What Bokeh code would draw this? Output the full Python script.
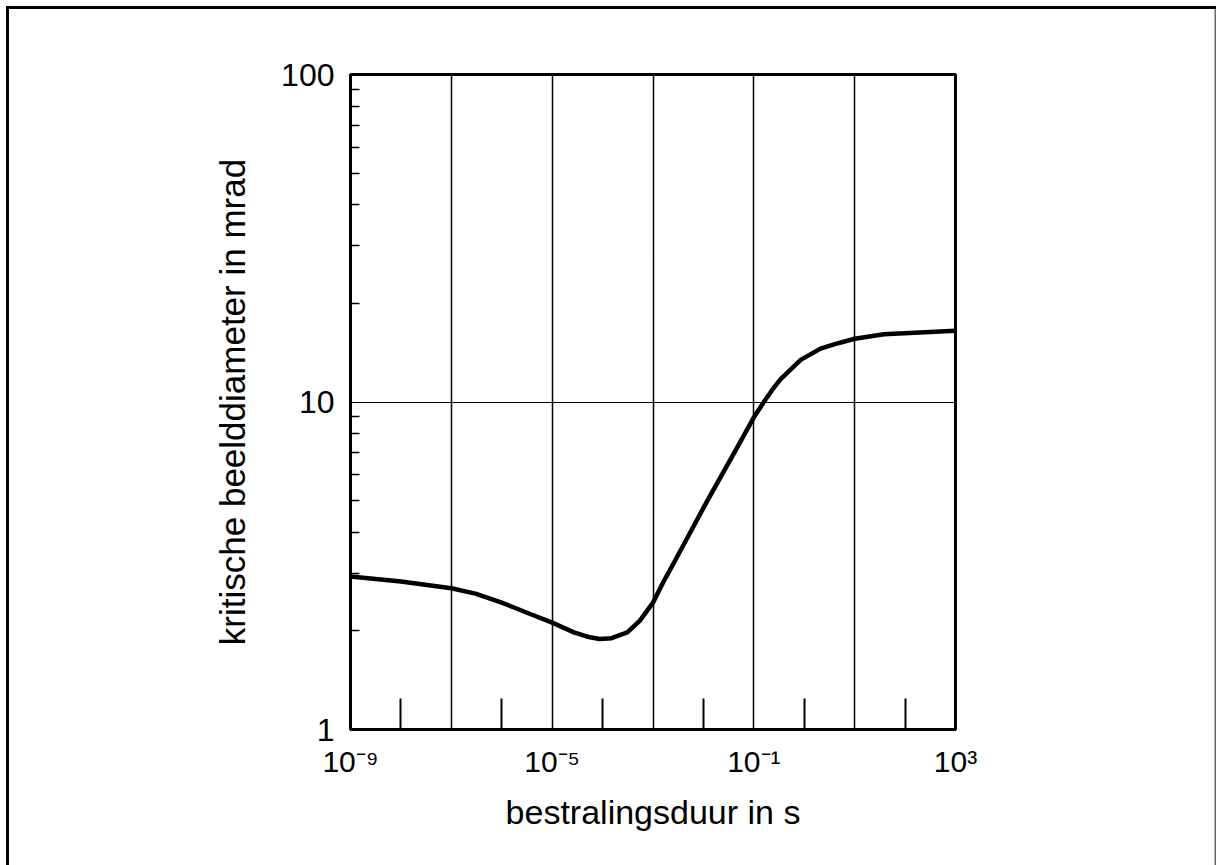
from bokeh.plotting import figure
from bokeh.models import FixedTicker, Range1d
from bokeh.embed import file_html
from bokeh.resources import INLINE

# ---- data ----
duur_s = [1e-9, 1e-8, 1e-7, 3e-7, 1e-6, 3e-6, 1e-5, 2.7e-5, 5e-5, 8.7e-5,
          1.5e-4, 3.1e-4, 5.5e-4, 1e-3, 1.66e-3, 2.6e-3, 1.2e-2, 5.5e-2,
          1e-1, 0.158, 0.233, 0.34, 0.85, 2.1, 3.9, 10, 38, 1000]
diameter_mrad = [2.93, 2.83, 2.70, 2.60, 2.44, 2.28, 2.12, 1.98, 1.92, 1.89,
                 1.90, 1.98, 2.15, 2.44, 2.85, 3.23, 5.0, 7.6,
                 8.98, 10.0, 10.9, 11.75, 13.45, 14.55, 15.0, 15.6, 16.1, 16.5]

x_major_ticks = [1e-9, 1e-5, 1e-1, 1e3]
x_major_labels = ["10\u207b\u2079", "10\u207b\u2075", "10\u207b\u00b9", "10\u00b3"]
x_minor_ticks = [1e-8, 1e-6, 1e-4, 1e-2, 1e0, 1e2]
x_grid_ticks = [1e-7, 1e-5, 1e-3, 1e-1, 1e1]
y_major_ticks = [1, 10, 100]
y_major_labels = ["1", "10", "100"]
y_minor_ticks = [2, 3, 4, 5, 6, 7, 8, 9, 20, 30, 40, 50, 60, 70, 80, 90]
y_grid_ticks = [10]

x_label = "bestralingsduur in s"
y_label = "kritische beelddiameter in mrad"

FONT = "Liberation Sans"

p = figure(width=1217, height=865, x_axis_type="log", y_axis_type="log",
           x_range=Range1d(1e-9, 1e3), y_range=Range1d(1, 100),
           output_backend="svg", toolbar_location=None,
           min_border_left=350, min_border_right=262,
           min_border_top=74, min_border_bottom=136)

p.background_fill_color = "white"
p.border_fill_color = "white"
p.border_fill_alpha = 0
p.outline_line_color = "black"
p.outline_line_width = 3

# outer frame of the page (drawn by CSS on the figure element)
p.styles = {
    "background-color": "white",
    "box-shadow": ("inset 6px 6px 0 0 white, inset -1px 0 0 0 white, "
                   "inset 9px 9px 0 0 black, inset -2.5px 0 0 0 #666666"),
}

# curve
p.line(duur_s, diameter_mrad, line_color="black", line_width=4.5,
       line_join="round")

# x axis
xa = p.xaxis[0]
xa.ticker = FixedTicker(ticks=x_major_ticks, minor_ticks=x_minor_ticks)
xa.major_label_overrides = {t: s for t, s in zip(x_major_ticks, x_major_labels)}
xa.major_tick_in = 0
xa.major_tick_out = 0
xa.minor_tick_in = 31
xa.minor_tick_out = 0
xa.minor_tick_line_width = 2
xa.minor_tick_line_color = "black"
xa.axis_line_width = 3
xa.major_label_text_font = FONT
xa.major_label_text_font_size = "30px"
xa.major_label_text_color = "black"
xa.major_label_standoff = 15
xa.axis_label = x_label
xa.axis_label_text_font = FONT
xa.axis_label_text_font_size = "34px"
xa.axis_label_text_font_style = "normal"
xa.axis_label_text_color = "black"
xa.axis_label_standoff = 12

# y axis
ya = p.yaxis[0]
ya.ticker = FixedTicker(ticks=y_major_ticks, minor_ticks=y_minor_ticks)
ya.major_label_overrides = {t: s for t, s in zip(y_major_ticks, y_major_labels)}
ya.major_tick_in = 0
ya.major_tick_out = 0
ya.minor_tick_in = 9
ya.minor_tick_out = 0
ya.minor_tick_line_width = 1.5
ya.minor_tick_line_color = "black"
ya.axis_line_width = 3
ya.major_label_text_font = FONT
ya.major_label_text_font_size = "32px"
ya.major_label_text_color = "black"
ya.major_label_standoff = 16
ya.axis_label = y_label
ya.axis_label_text_font = FONT
ya.axis_label_text_font_size = "35px"
ya.axis_label_text_font_style = "normal"
ya.axis_label_text_color = "black"
ya.axis_label_standoff = 26

# grids
p.xgrid.ticker = FixedTicker(ticks=x_grid_ticks)
p.xgrid.grid_line_color = "black"
p.xgrid.grid_line_width = 1.5
p.ygrid.ticker = FixedTicker(ticks=y_grid_ticks)
p.ygrid.grid_line_color = "black"
p.ygrid.grid_line_width = 1.2

open("out.html", "w").write(file_html(p, INLINE))
